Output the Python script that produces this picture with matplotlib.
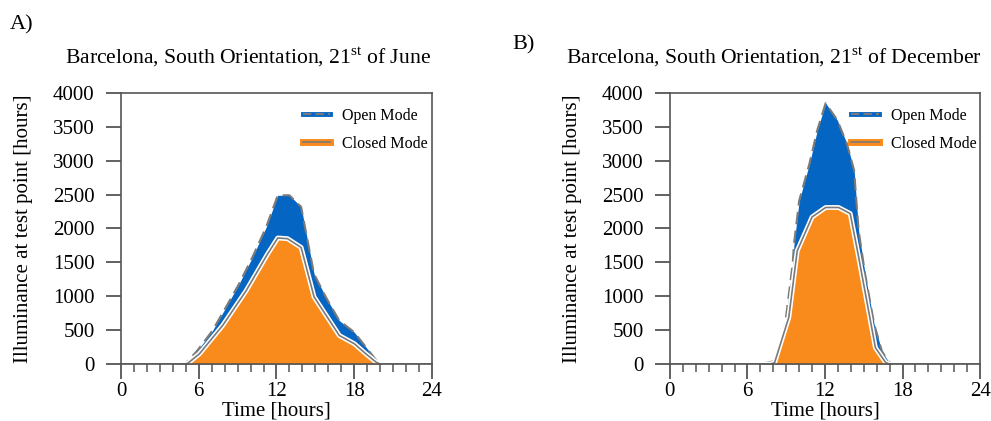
import matplotlib
matplotlib.use("Agg")
import matplotlib.pyplot as plt
from matplotlib.lines import Line2D
from matplotlib.ticker import MultipleLocator

plt.rcParams['font.family'] = ['Liberation Serif', 'DejaVu Serif']
plt.rcParams['mathtext.fontset'] = 'custom'
plt.rcParams['mathtext.rm'] = 'Liberation Serif'

# 21st of June
june_open_t = [0, 4, 5, 5.9, 7.05, 8.1, 9.1, 10.15, 11.2, 12.1, 13.0, 13.9, 14.4, 14.9, 15.8, 16.85, 18.0, 18.9, 19.8, 20.1, 24]
june_open = [0, 0, 10, 200, 490, 840, 1180, 1580, 2020, 2490, 2490, 2320, 1820, 1330, 990, 640, 470, 250, 30, 0, 0]
june_closed_t = [0, 4.9, 5.15, 6.05, 7.85, 9.65, 11.3, 12.1, 12.85, 13.9, 14.9, 16.85, 18.0, 18.9, 19.7, 20.0, 24]
june_closed = [0, 0, 10, 150, 570, 1080, 1620, 1860, 1850, 1720, 990, 420, 300, 150, 25, 0, 0]

# 21st of December
dec_open_t = [0, 7.0, 8.05, 8.85, 9.5, 9.6, 10.0, 10.8, 11.4, 12.05, 12.95, 13.7, 14.25, 14.6, 15.1, 15.8, 16.4, 16.9, 17.2, 24]
dec_open = [0, 0, 40, 490, 1480, 1770, 2410, 2960, 3450, 3850, 3600, 3250, 2860, 1970, 1330, 590, 190, 40, 0, 0]
dec_closed_t = [0, 7.8, 8.1, 9.2, 9.85, 11.0, 12.05, 13.05, 13.95, 14.6, 15.9, 16.7, 17.0, 24]
dec_closed = [0, 0, 20, 690, 1670, 2170, 2310, 2310, 2220, 1580, 240, 20, 0, 0]

xticks = [0, 6, 12, 18, 24]
labels = ["Open Mode", "Closed Mode"]

blue = '#0565c2'
orange = '#f88b1c'
grey = '#7a7a7a'
axcol = '#555555'

fig = plt.figure(figsize=(9.91, 4.21), dpi=100)
ax1 = fig.add_axes([0.1221, 0.1354, 0.3138, 0.6437])
ax2 = fig.add_axes([0.676, 0.1354, 0.313, 0.6437])


def panel(ax, ot, ov, ct, cv):
    ax.fill_between(ot, ov, color=blue, lw=0)
    ax.plot(ot, ov, color=grey, lw=1.5, dashes=(6, 3))
    ax.fill_between(ct, cv, color=orange, lw=0)
    ax.plot(ct, cv, color='white', lw=3.5)
    ax.plot(ct, cv, color=grey, lw=1.2)
    ax.set_xlim(0, 24)
    ax.set_ylim(0, 4000)
    ax.set_xticks(xticks)
    ax.xaxis.set_minor_locator(MultipleLocator(1))
    ax.yaxis.set_major_locator(MultipleLocator(500))
    ax.tick_params(axis='both', which='major', direction='out', length=11,
                   width=1.3, color=axcol, labelsize=15)
    ax.tick_params(axis='y', pad=8)
    ax.tick_params(axis='x', pad=2)
    ax.tick_params(axis='x', which='minor', direction='out', length=6,
                   width=1.1, color=axcol)
    for s in ax.spines.values():
        s.set_color(axcol)
        s.set_linewidth(1.2)
    ax.set_xlabel("Time [hours]", fontsize=15, labelpad=0)
    ax.set_ylabel("Illuminance at test point [hours]", fontsize=15, labelpad=14)
    h_open = (Line2D([], [], color=blue, lw=3.5), Line2D([], [], color=grey, lw=1.5, dashes=(4, 2)))
    h_closed = (Line2D([], [], color=orange, lw=5), Line2D([], [], color=grey, lw=1.2))
    ax.legend([h_open, h_closed], labels, loc='upper left', bbox_to_anchor=(0.585, 0.945),
              frameon=False, fontsize=11.5, borderpad=0, borderaxespad=0,
              handlelength=1.7, handletextpad=0.75, labelspacing=0.75)


panel(ax1, june_open_t, june_open, june_closed_t, june_closed)
panel(ax2, dec_open_t, dec_open, dec_closed_t, dec_closed)

fig.text(0.01, 0.94, "A)", fontsize=16, va='center', ha='left')
fig.text(0.517, 0.893, "B)", fontsize=16, va='center', ha='left')
fig.text(0.25, 0.865, r"Barcelona, South Orientation, 21$^{\mathrm{st}}$ of June",
         fontsize=15.6, va='center', ha='center')
fig.text(0.781, 0.865, r"Barcelona, South Orientation, 21$^{\mathrm{st}}$ of December",
         fontsize=15.6, va='center', ha='center')

fig.savefig("out.png", dpi=100)
